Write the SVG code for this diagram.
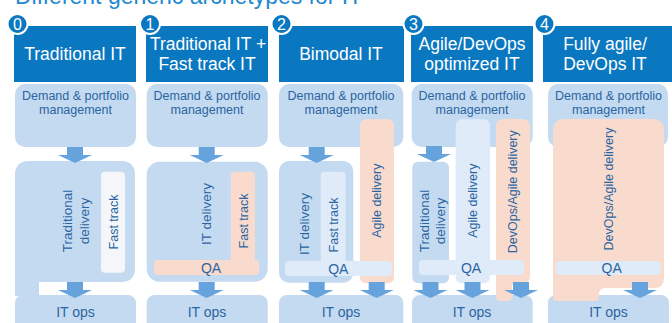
<svg xmlns="http://www.w3.org/2000/svg" width="672" height="323" viewBox="0 0 672 323">
  <defs>
    <style>
      text{font-family:"Liberation Sans",Arial,sans-serif}
      .title{fill:#2388cf;font-size:23px}
      .hdr{fill:#0a78c1}
      .ht{fill:#fff;font-size:17.5px;text-anchor:middle}
      .num{fill:#0a78c1;stroke:#fff;stroke-width:2}
      .nt{fill:#fff;font-size:16px;text-anchor:middle}
      .box{fill:#c4daf0}
      .lite{fill:#dfebf8}
      .peach{fill:#f9dbce}
      .pale{fill:#f4f6f9}
      .t{fill:#2a65a2;text-anchor:middle}
      .dm{font-size:12.5px}
      .ops{font-size:14px}
      .qa{font-size:14px}
      .v1{font-size:13.5px}
      .v2{font-size:12.5px}
      .arr{fill:#66a3dc}
    </style>
    <!-- block arrow pointing down, origin at top centre of the shaft -->
    <path id="arrow" d="M-8,0 H8 V8 H17 L0,16 L-17,8 H-8 Z"/>
  </defs>

  <rect width="672" height="323" fill="#fff"/>

  <text class="title" x="15" y="3.5">Different generic archetypes for IT</text>

  <!-- ===== headers ===== -->
  <g id="header-0">
    <rect class="hdr" x="14" y="26" width="122" height="56"/>
    <text class="ht" x="75" y="60">Traditional IT</text>
    <circle class="num" cx="17.5" cy="24" r="10"/>
    <text class="nt" x="17.5" y="30">0</text>
  </g>
  <g id="header-1">
    <rect class="hdr" x="146" y="26" width="122" height="56"/>
    <text class="ht" x="208" y="50">Traditional IT +</text>
    <text class="ht" x="207" y="70">Fast track IT</text>
    <circle class="num" cx="150" cy="24" r="10"/>
    <text class="nt" x="150" y="30">1</text>
  </g>
  <g id="header-2">
    <rect class="hdr" x="279" y="26" width="125" height="56"/>
    <text class="ht" x="341" y="60">Bimodal IT</text>
    <circle class="num" cx="281.5" cy="24" r="10"/>
    <text class="nt" x="281.5" y="30">2</text>
  </g>
  <g id="header-3">
    <rect class="hdr" x="411" y="26" width="122" height="56"/>
    <text class="ht" x="472" y="50">Agile/DevOps</text>
    <text class="ht" x="472" y="70">optimized IT</text>
    <circle class="num" cx="413.5" cy="24" r="10"/>
    <text class="nt" x="413.5" y="30">3</text>
  </g>
  <g id="header-4">
    <rect class="hdr" x="543" y="26" width="129" height="56"/>
    <text class="ht" x="605" y="50">Fully agile/</text>
    <text class="ht" x="605" y="70">DevOps IT</text>
    <circle class="num" cx="544.5" cy="24" r="10"/>
    <text class="nt" x="544.5" y="30">4</text>
  </g>

  <!-- ===== demand & portfolio management ===== -->
  <g id="demand-0">
    <rect class="box" x="15" y="84" width="121" height="63" rx="10"/>
    <text class="t dm" x="75.5" y="100">Demand &amp; portfolio</text>
    <text class="t dm" x="75.5" y="114">management</text>
  </g>
  <g id="demand-1">
    <rect class="box" x="146.7" y="84" width="121" height="63" rx="10"/>
    <text class="t dm" x="207" y="100">Demand &amp; portfolio</text>
    <text class="t dm" x="207" y="114">management</text>
  </g>
  <g id="demand-2">
    <rect class="box" x="279" y="84" width="124.3" height="63" rx="10"/>
    <text class="t dm" x="341" y="100">Demand &amp; portfolio</text>
    <text class="t dm" x="341" y="114">management</text>
  </g>
  <g id="demand-3">
    <rect class="box" x="411.7" y="84" width="121" height="63" rx="10"/>
    <text class="t dm" x="472" y="100">Demand &amp; portfolio</text>
    <text class="t dm" x="472" y="114">management</text>
  </g>
  <g id="demand-4">
    <rect class="box" x="548" y="84" width="120" height="63" rx="10"/>
    <text class="t dm" x="608.5" y="100">Demand &amp; portfolio</text>
    <text class="t dm" x="608.5" y="114">management</text>
  </g>

  <!-- ===== IT ops ===== -->
  <g id="itops-0">
    <rect class="box" x="15" y="295" width="121" height="40" rx="8"/>
    <text class="t ops" x="75.5" y="316.5">IT ops</text>
  </g>
  <g id="itops-1">
    <rect class="box" x="146.7" y="295" width="121" height="40" rx="8"/>
    <text class="t ops" x="207" y="316.5">IT ops</text>
  </g>
  <g id="itops-2">
    <rect class="box" x="279" y="295" width="124.3" height="40" rx="8"/>
    <text class="t ops" x="341" y="316.5">IT ops</text>
  </g>
  <g id="itops-3">
    <rect class="box" x="412" y="295" width="120.7" height="40" rx="8"/>
    <text class="t ops" x="472" y="316.5">IT ops</text>
  </g>
  <g id="itops-4">
    <rect class="box" x="548" y="295" width="121" height="40" rx="8"/>
    <text class="t ops" x="608.5" y="316.5">IT ops</text>
  </g>

  <!-- ===== delivery, column 0 ===== -->
  <g id="delivery-0">
    <path class="box" d="M15,175 Q15,161 29,161 H121 Q135,161 135,175 V268 Q135,282 121,282 H39 V296 H15 Z"/>
    <text class="t v1" transform="rotate(-90 71.5 221)" x="71.5" y="221">Traditional</text>
    <text class="t v1" transform="rotate(-90 88.5 221)" x="88.5" y="221">delivery</text>
  </g>
  <g id="fasttrack-0">
    <rect class="pale" x="101" y="171.7" width="24" height="101" rx="4"/>
    <text class="t v2" transform="rotate(-90 117.5 222)" x="117.5" y="222">Fast track</text>
  </g>

  <!-- ===== delivery, column 1 ===== -->
  <g id="delivery-1">
    <rect class="box" x="146.7" y="161.7" width="121" height="120" rx="13"/>
    <text class="t v1" transform="rotate(-90 211 214)" x="211" y="214">IT delivery</text>
  </g>
  <g id="fasttrack-1">
    <rect class="peach" x="230.7" y="171.7" width="24.3" height="98" rx="4"/>
    <rect class="peach" x="154" y="260" width="105.3" height="15" rx="4"/>
    <text class="t v2" transform="rotate(-90 248 221)" x="248" y="221">Fast track</text>
    <text class="t qa" x="211" y="273">QA</text>
  </g>

  <!-- ===== delivery, column 2 ===== -->
  <g id="delivery-2">
    <rect class="box" x="279" y="161" width="74.3" height="121.7" rx="10"/>
    <text class="t v1" transform="rotate(-90 309 224)" x="309" y="224">IT delivery</text>
  </g>
  <g id="agile-2">
    <rect class="peach" x="360" y="119.3" width="34" height="164" rx="6"/>
    <text class="t v2" transform="rotate(-90 381 200.7)" x="381" y="200.7">Agile delivery</text>
  </g>
  <g id="fasttrack-2">
    <rect class="lite" x="320.7" y="171.7" width="25" height="96" rx="4"/>
    <text class="t v2" transform="rotate(-90 338 225)" x="338" y="225">Fast track</text>
  </g>
  <g id="qa-2">
    <rect class="lite" x="285" y="261" width="106.7" height="15" rx="4"/>
    <text class="t qa" x="338.3" y="273.5">QA</text>
  </g>

  <!-- ===== delivery, column 3 ===== -->
  <g id="delivery-3">
    <rect class="box" x="412.3" y="161.7" width="36.7" height="121.6" rx="6"/>
    <text class="t v1" transform="rotate(-90 428.5 221)" x="428.5" y="221">Traditional</text>
    <text class="t v1" transform="rotate(-90 445 221)" x="445" y="221">delivery</text>
  </g>
  <g id="agile-3">
    <rect class="lite" x="455.7" y="119.3" width="34.3" height="164" rx="6"/>
    <text class="t v2" transform="rotate(-90 477 200.7)" x="477" y="200.7">Agile delivery</text>
  </g>
  <g id="devops-3">
    <path class="peach" d="M496,127 Q496,119 504,119 H522 Q530,119 530,127 V276 Q530,283 523,283 H516 Q512,283 512,287 V296 Q512,301 507,301 H501 Q496,301 496,296 Z"/>
    <text class="t v2" transform="rotate(-90 517.5 191.7)" x="517.5" y="191.7">DevOps/Agile delivery</text>
  </g>
  <g id="qa-3">
    <rect class="lite" x="419" y="260" width="105" height="15" rx="4"/>
    <text class="t qa" x="471" y="272.5">QA</text>
  </g>

  <!-- ===== delivery, column 4 ===== -->
  <g id="devops-4">
    <path class="peach" d="M553,131 Q553,119 565,119 H652 Q664,119 664,131 V278 Q664,288 654,288 H605 Q599,288 599,294 V297 Q599,301 595,301 H557 Q553,301 553,297 Z"/>
    <text class="t v2" transform="rotate(-90 613 189)" x="613" y="189">DevOps/Agile delivery</text>
  </g>
  <g id="qa-4">
    <rect class="lite" x="555.7" y="261" width="105" height="14" rx="4"/>
    <text class="t qa" x="611.7" y="273">QA</text>
  </g>

  <!-- ===== connectors ===== -->
  <g id="connectors" class="arr">
    <use href="#arrow" x="75" y="147"/>
    <use href="#arrow" x="75" y="282"/>
    <use href="#arrow" x="206.7" y="147"/>
    <use href="#arrow" x="206.7" y="282"/>
    <use href="#arrow" x="316.7" y="147"/>
    <use href="#arrow" x="316.7" y="282"/>
    <use href="#arrow" x="376.7" y="282"/>
    <use href="#arrow" x="434" y="146"/>
    <use href="#arrow" x="430.5" y="282"/>
    <use href="#arrow" x="472.5" y="282"/>
    <use href="#arrow" x="521" y="282"/>
    <use href="#arrow" x="640" y="282"/>
  </g>
</svg>
